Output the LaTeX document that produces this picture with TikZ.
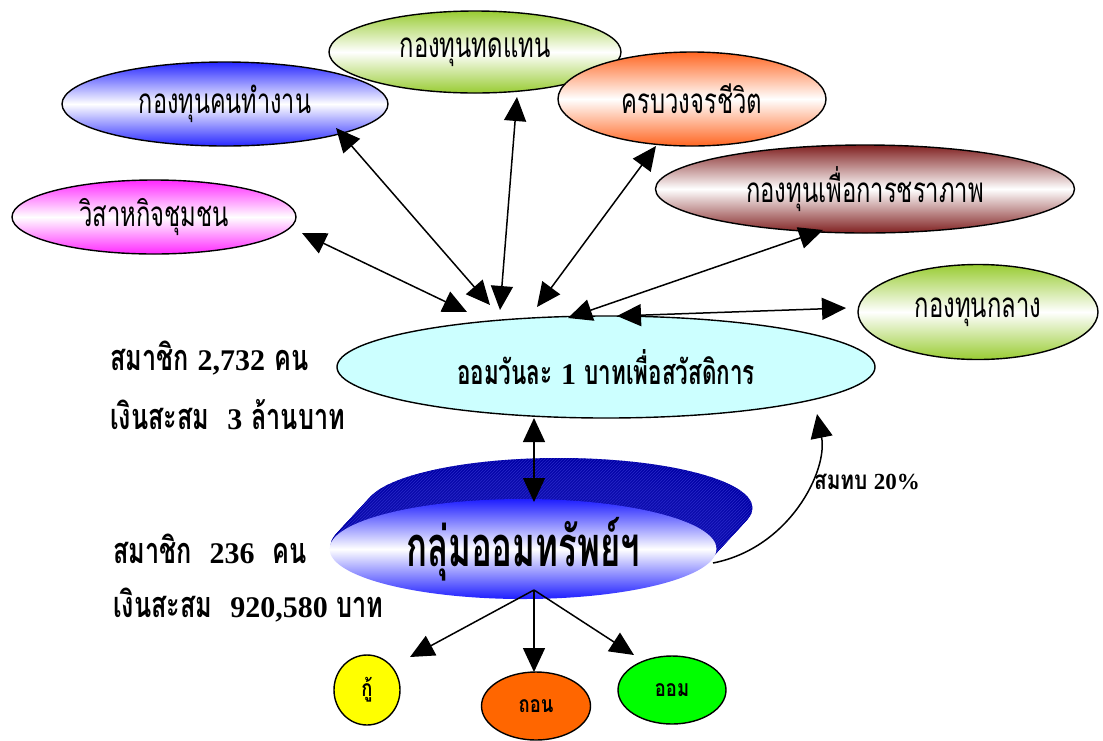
\documentclass[tikz,border=0pt]{standalone}
\usepackage{fontspec}
\usepackage{graphicx}
\setmainfont{Liberation Serif}
\newfontfamily\thaifont[Script=Thai]{Loma}
\usetikzlibrary{shapes.geometric,arrows.meta,calc,patterns}
\definecolor{cblue}{RGB}{40,40,255}
\definecolor{cgreen}{RGB}{153,204,51}
\definecolor{corange}{RGB}{255,102,34}
\definecolor{cmaroon}{RGB}{128,32,32}
\definecolor{cmag}{RGB}{255,40,255}
\definecolor{ccyan}{RGB}{204,255,255}
\definecolor{cnavy}{RGB}{0,0,165}
\definecolor{chatch}{RGB}{35,35,195}
\definecolor{cdisk}{RGB}{30,30,255}
\definecolor{cyel}{RGB}{255,255,0}
\definecolor{corg}{RGB}{255,102,0}
\definecolor{cgrn}{RGB}{0,255,0}
\newcommand\TT[2]{\scalebox{#1}[1]{\thaifont #2}}
\newcommand\DG[1]{{\fontsize{30}{30}\selectfont #1}}
\tikzset{
  fund/.style={ellipse, draw=black, line width=1.4pt, inner sep=0pt,
    top color=#1, bottom color=#1, middle color=white},
  flab/.style={font=\fontsize{35}{35}\selectfont},
  blab/.style={font=\fontsize{36}{36}\selectfont\bfseries, anchor=west, inner sep=0pt},
  small/.style={ellipse, draw=black, line width=1.4pt, inner sep=0pt,
    font=\fontsize{23}{23}\selectfont\bfseries},
  arr/.style={line width=1.5pt, -{Triangle[length=24pt,width=22pt]}},
  darr/.style={line width=1.5pt, {Triangle[length=24pt,width=22pt]}-{Triangle[length=24pt,width=22pt]}},
}
\begin{document}
\begin{tikzpicture}[x=1pt,y=-1pt]
\useasboundingbox (0,0) rectangle (1103,740);
% outer funds
\node[fund=cgreen, minimum width=292pt, minimum height=82pt, flab] (td) at (475,52) {\TT{0.68}{กองทุนทดแทน}};
\node[fund=corange, minimum width=268pt, minimum height=94pt, flab] (kb) at (692,99) {\TT{0.68}{ครบวงจรชีวิต}};
\node[fund=cblue, minimum width=326pt, minimum height=84pt, flab] (kt) at (225,104) {\TT{0.67}{กองทุนคนทำงาน}};
\node[fund=cmaroon, minimum width=419pt, minimum height=88pt, flab] (cp) at (865,189) {\TT{0.68}{กองทุนเพื่อการชราภาพ}};
\node[fund=cmag, minimum width=284pt, minimum height=74pt, flab] (vs) at (154,217) {\TT{0.68}{วิสาหกิจชุมชน}};
\node[fund=cgreen, minimum width=240pt, minimum height=95pt, flab] (kk) at (978,312) {\TT{0.68}{กองทุนกลาง}};
% centre
\node[ellipse, draw=black, line width=1.4pt, fill=ccyan, inner sep=0pt, minimum width=538pt, minimum height=102pt,
  font=\fontsize{34}{34}\selectfont\bfseries] (c) at (606,367) {\TT{0.66}{ออมวันละ} \DG{1} \TT{0.66}{บาทเพื่อสวัสดิการ}};
% disk
\foreach \i in {40,39,...,1} \fill[cnavy] (523+\i*0.9, 547-\i*0.975) ellipse (193.5 and 50);
\foreach \i in {40,36,...,4} \fill[pattern=north east lines, pattern color=chatch] (523+\i*0.9, 547-\i*0.975) ellipse (193.5 and 50);
\node[ellipse, inner sep=0pt, minimum width=387pt, minimum height=100pt,
  top color=cdisk, bottom color=cdisk, middle color=white,
  font=\fontsize{56}{56}\selectfont\bfseries] (g) at (523,549) {\TT{0.62}{กลุ่มออมทรัพย์ฯ}};
% small
\node[small, fill=cyel, minimum width=66pt, minimum height=70pt] (gu) at (367,690) {\TT{0.8}{กู้}};
\node[small, fill=corg, minimum width=109pt, minimum height=68pt] (thon) at (536,706) {\raisebox{-6pt}{\TT{0.8}{ถอน}}};
\node[small, fill=cgrn, minimum width=108pt, minimum height=68pt] (om) at (672,690) {\TT{0.8}{ออม}};
% texts
\node[blab] (t1) at (110,358) {\TT{0.7}{สมาชิก} \DG{2,732} \TT{0.7}{คน}};
\node[blab] (t2) at (110,415) {\TT{0.7}{เงินสะสม}\ \ \DG{3} \TT{0.7}{ล้านบาท}};
\node[blab] (t3) at (113,549) {\TT{0.7}{สมาชิก}\ \ \DG{236}\ \ \TT{0.7}{คน}};
\node[blab] (t4) at (113,605) {\TT{0.7}{เงินสะสม}\ \ \DG{920,580} \TT{0.7}{บาท}};
\node[font=\fontsize{26}{26}\selectfont\bfseries, inner sep=0pt] (sb) at (867,482) {\TT{0.8}{สมทบ} {\fontsize{23}{23}\selectfont 20\%}};
% connectors
\draw[darr] ($(vs)+(148,16)$) -- ($(c)+(-139,-55)$);
\draw[darr] ($(kt)+(111,24)$) -- ($(c)+(-116,-62)$);
\draw[darr] ($(td)+(42,45)$) -- ($(c)+(-106,-57)$);
\draw[darr] ($(kb)+(-36,47)$) -- ($(c)+(-69,-60)$);
\draw[darr] ($(cp)+(-42,41)$) -- ($(c)+(-38,-49)$);
\draw[darr] ($(kk)+(-132,-4)$) -- ($(c)+(11,-51)$);
\draw[darr] ($(c)+(-72,51)$) -- ($(g)+(11,-47)$);
\draw[arr] ($(g)+(190,14)$) .. controls ($(g)+(267,-1)$) and ($(c)+(222,103)$) .. ($(c)+(211,47)$);
\draw[arr] ($(g)+(11,41)$) -- ($(gu)+(43,-33)$);
\draw[arr] ($(g)+(11,41)$) -- ($(thon)+(-2,-34)$);
\draw[arr] ($(g)+(11,41)$) -- ($(om)+(-38,-35)$);
\end{tikzpicture}
\end{document}
